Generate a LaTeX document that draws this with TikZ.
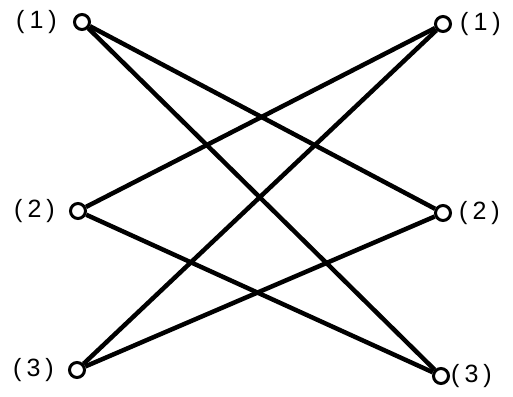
\documentclass[tikz,border=0pt]{standalone}
\usepackage{fontspec}
\setmainfont{Liberation Sans}
\usepackage{tikz}
\usetikzlibrary{positioning}

\begin{document}
\begin{tikzpicture}[x=1pt,y=-1pt,
  vtx/.style={circle,draw,line width=3pt,fill=white,inner sep=0pt,minimum size=15pt},
  edge/.style={line width=4.5pt},
  lbl/.style={font=\fontsize{25}{25}\selectfont,inner sep=0pt}]
\useasboundingbox (0,0) rectangle (513,396);

% Left vertices
\node[vtx] (l1) at (82,22) {};
\node[vtx] (l2) at (78,211) {};
\node[vtx] (l3) at (77,370) {};

% Right vertices
\node[vtx] (r1) at (443,24) {};
\node[vtx] (r2) at (443,213) {};
\node[vtx] (r3) at (441,376) {};

% Labels
\node[lbl,left=16pt of l1] (t1) {(\kern5pt1\kern5pt)};
\node[lbl,left=14pt of l2] (t2) {(\kern5pt2\kern5pt)};
\node[lbl,left=14pt of l3] (t3) {(\kern5pt3\kern5pt)};
\node[lbl,right=8pt of r1] (s1) {(\kern5pt1\kern5pt)};
\node[lbl,right=7pt of r2] (s2) {(\kern5pt2\kern5pt)};
\node[lbl,right=1pt of r3] (s3) {(\kern5pt3\kern5pt)};

% Edges
\draw[edge] (l1) -- (r2);
\draw[edge] (l1) -- (r3);
\draw[edge] (l2) -- (r1);
\draw[edge] (l2) -- (r3);
\draw[edge] (l3) -- (r1);
\draw[edge] (l3) -- (r2);
\end{tikzpicture}
\end{document}
